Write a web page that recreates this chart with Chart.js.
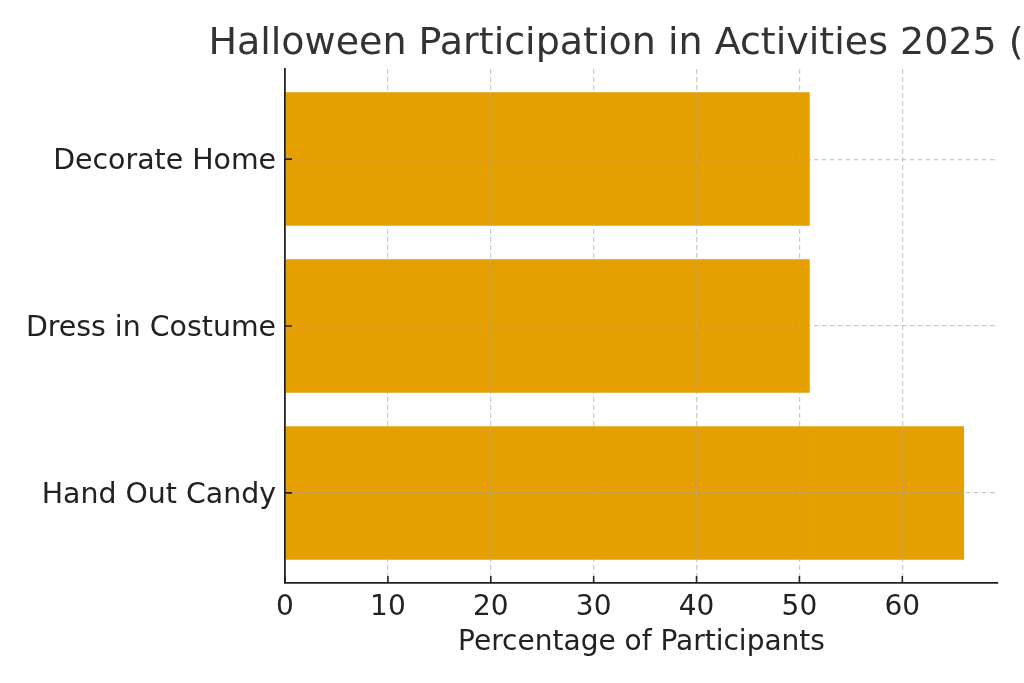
<!DOCTYPE html>
<html>
<head>
<meta charset="utf-8">
<script src="https://cdn.jsdelivr.net/npm/chart.js@4"></script>
<style>
  html, body { margin: 0; padding: 0; background: #fff; }
  #wrap { width: 1024px; height: 683px; }
</style>
</head>
<body>
<div id="wrap"><canvas id="myChart"></canvas></div>
<script>
// bottom to top, like the picture
const categories = ['Hand Out Candy', 'Dress in Costume', 'Decorate Home'];
const percents = [66, 51, 51];
const xTicks = [0, 10, 20, 30, 40, 50, 60];

const chartTitle = 'Halloween Participation in Activities 2025 (%)';
const xLabel = 'Percentage of Participants';

const FONT = "'DejaVu Sans', sans-serif";

// title centred over the plot area (it runs off the right edge like the original)
const titlePlugin = {
  id: 'plotTitle',
  afterDraw(chart) {
    const c = chart.ctx, a = chart.chartArea;
    c.save();
    c.font = '38px ' + FONT;
    c.fillStyle = '#333';
    c.textAlign = 'center';
    c.textBaseline = 'alphabetic';
    c.fillText(chartTitle, (a.left + a.right) / 2, 54);
    c.restore();
  }
};

// tick marks point inward
const innerTicks = {
  id: 'innerTicks',
  afterDraw(chart) {
    const c = chart.ctx, a = chart.chartArea;
    const xs = chart.scales.x, ys = chart.scales.y;
    c.save();
    c.strokeStyle = '#222';
    c.lineWidth = 1.6;
    c.beginPath();
    xs.ticks.forEach(t => {
      const px = xs.getPixelForValue(t.value);
      c.moveTo(px, a.bottom);
      c.lineTo(px, a.bottom - 7);
    });
    ys.ticks.forEach(t => {
      const py = ys.getPixelForValue(t.value);
      c.moveTo(a.left, py);
      c.lineTo(a.left + 7, py);
    });
    c.stroke();
    c.restore();
  }
};

// grid goes over the bars, as in the original
const gridStyle = {
  color: 'rgba(170,170,170,0.6)',
  lineWidth: 1.2,
  drawTicks: false,
  offset: false,
  z: 1
};
const borderStyle = { display: true, color: '#222', width: 1.8, dash: [5, 3], z: 2 };

const ctx = document.getElementById('myChart');

new Chart(ctx, {
  type: 'bar',
  data: {
    datasets: [{
      data: percents.map((v, i) => ({ x: v, y: i })),
      backgroundColor: '#E69F00',
      borderWidth: 0,
      barPercentage: 0.8,
      categoryPercentage: 1
    }]
  },
  options: {
    indexAxis: 'y',
    responsive: true,
    maintainAspectRatio: false,
    animation: false,
    layout: { padding: { top: 69, right: 26, left: 0, bottom: 0 } },
    plugins: {
      legend: { display: false },
      tooltip: { enabled: false },
      title: { display: false }
    },
    scales: {
      x: {
        type: 'linear',
        min: 0,
        max: 69.3,
        offset: false,
        afterBuildTicks: s => { s.ticks = xTicks.map(v => ({ value: v })); },
        afterFit: s => { s.height = 100; },
        grid: gridStyle,
        border: borderStyle,
        ticks: {
          padding: 8,
          color: '#222',
          font: { family: FONT, size: 28 },
          maxRotation: 0
        },
        title: {
          display: true,
          text: xLabel,
          color: '#222',
          font: { family: FONT, size: 28 },
          padding: { top: 0, bottom: 23 }
        }
      },
      y: {
        type: 'linear',
        min: -0.54,
        max: 2.54,
        offset: false,
        afterBuildTicks: s => { s.ticks = categories.map((c, i) => ({ value: i })); },
        afterFit: s => { s.width = 285; },
        grid: gridStyle,
        border: borderStyle,
        ticks: {
          padding: 9,
          labelOffset: 3,
          color: '#222',
          font: { family: FONT, size: 28.4 },
          callback: v => categories[v]
        }
      }
    }
  },
  plugins: [titlePlugin, innerTicks]
});
</script>
</body>
</html>
